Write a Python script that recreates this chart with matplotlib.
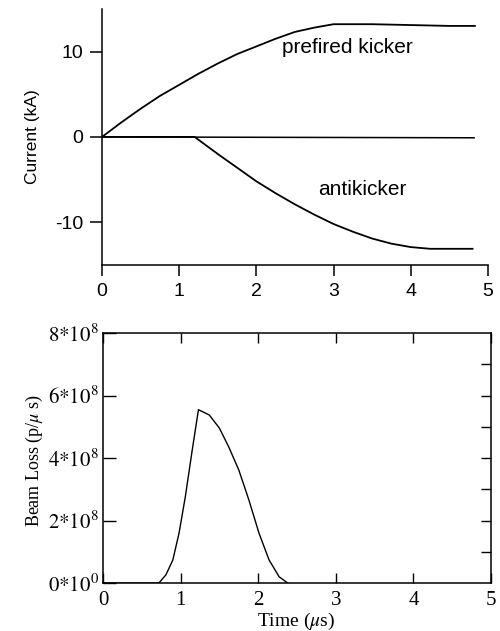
import numpy as np
import matplotlib
matplotlib.use("Agg")
from matplotlib import pyplot as plt

# kicker currents (kA) versus time (us)
t_prefired = [0, 0.25, 0.5, 0.75, 1.0, 1.25, 1.5, 1.75, 2.0, 2.25, 2.5, 2.75, 3.0, 3.5, 4.0, 4.5, 4.83]
i_prefired = [0, 1.7, 3.3, 4.8, 6.1, 7.4, 8.6, 9.7, 10.6, 11.5, 12.3, 12.8, 13.2, 13.2, 13.1, 13.0, 13.0]

t_anti = [0, 1.2, 1.5, 1.75, 2.0, 2.25, 2.5, 2.75, 3.0, 3.25, 3.5, 3.75, 4.0, 4.25, 4.5, 4.8]
i_anti = [0, 0, -2.0, -3.6, -5.2, -6.6, -7.9, -9.1, -10.2, -11.1, -11.9, -12.5, -12.9, -13.1, -13.1, -13.1]

t_zero = [0, 4.82]
i_zero = [0, -0.1]

# beam loss (protons per us) versus time (us)
t_loss = [0, 0.72, 0.81, 0.90, 0.98, 1.06, 1.15, 1.23, 1.37, 1.50, 1.62, 1.75, 1.88, 2.01, 2.14, 2.27, 2.38]
loss = [0, 0, 0.26e8, 0.74e8, 1.6e8, 2.75e8, 4.26e8, 5.55e8, 5.38e8, 4.96e8, 4.36e8, 3.62e8, 2.66e8, 1.6e8, 0.74e8, 0.2e8, 0]

loss_ticks = [0, 2e8, 4e8, 6e8, 8e8]
loss_labels = [r"$\mathrm{0{*}10^{0}}$", r"$\mathrm{2{*}10^{8}}$", r"$\mathrm{4{*}10^{8}}$",
               r"$\mathrm{6{*}10^{8}}$", r"$\mathrm{8{*}10^{8}}$"]

plt.rcParams["mathtext.fontset"] = "stix"
plt.rcParams["axes.unicode_minus"] = False
sans = ["Liberation Sans", "DejaVu Sans"]
serif = ["Liberation Serif", "DejaVu Serif"]

fig = plt.figure(figsize=(5.0, 6.31), dpi=100)

# --- currents ---
ax1 = fig.add_axes([0.204, 0.580, 0.772, 0.406])
ax1.plot(t_prefired, i_prefired, color="black", lw=1.3)
ax1.plot(t_anti, i_anti, color="black", lw=1.3)
ax1.plot(t_zero, i_zero, color="black", lw=1.1)
ax1.set_xlim(0, 5)
ax1.set_ylim(-15, 15)
ax1.spines["top"].set_visible(False)
ax1.spines["right"].set_visible(False)
for s in ("left", "bottom"):
    ax1.spines[s].set_linewidth(1.1)
ax1.set_xticks([0, 1, 2, 3, 4, 5])
ax1.set_yticks([-10, 0, 10])
ax1.tick_params(axis="x", direction="out", length=8, width=1.1, pad=5)
ax1.tick_params(axis="y", direction="out", length=8.5, width=1.1, pad=5)
for lab in ax1.get_xticklabels() + ax1.get_yticklabels():
    lab.set_family(sans)
    lab.set_fontsize(14)
ax1.set_ylabel("Current (kA)", family=sans, fontsize=12.5)
ax1.yaxis.set_label_coords(-0.16, 0.5)
ax1.text(2.33, 10.5, "prefired kicker", family=sans, fontsize=15, va="center", ha="left")
ax1.text(2.8, -6.2, "antikicker", family=sans, fontsize=15, va="center", ha="left")

# --- beam loss ---
ax2 = fig.add_axes([0.206, 0.076, 0.776, 0.396])
ax2.plot(t_loss, loss, color="black", lw=1.0)
ax2.set_xlim(0, 5)
ax2.set_ylim(0, 8e8)
for s in ax2.spines.values():
    s.set_linewidth(1.1)
ax2.set_xticks([0, 1, 2, 3, 4, 5])
ax2.set_yticks(loss_ticks)
ax2.set_yticklabels(loss_labels)
ax2.tick_params(axis="x", direction="in", top=True, length=7, width=1.0, pad=6)
ax2.tick_params(axis="y", direction="in", length=9.5, width=1.0, pad=3)
for lab in ax2.get_xticklabels() + ax2.get_yticklabels():
    lab.set_family(serif)
    lab.set_fontsize(15)

# right-hand minor ticks every 1e8
ax2r = ax2.twinx()
ax2r.set_ylim(0, 8e8)
ax2r.set_yticks(np.arange(1, 8) * 1e8)
ax2r.tick_params(axis="y", direction="in", length=7, width=1.0, labelright=False)
for s in ax2r.spines.values():
    s.set_visible(False)

ax2.set_xlabel(r"Time ($\mu$s)", family=serif, fontsize=14)
ax2.xaxis.set_label_coords(0.497, -0.112)
ax2.set_ylabel(r"Beam Loss (p/$\mu$ s)", family=serif, fontsize=13)
ax2.yaxis.set_label_coords(-0.15, 0.49)

fig.savefig("out.png", dpi=100)
